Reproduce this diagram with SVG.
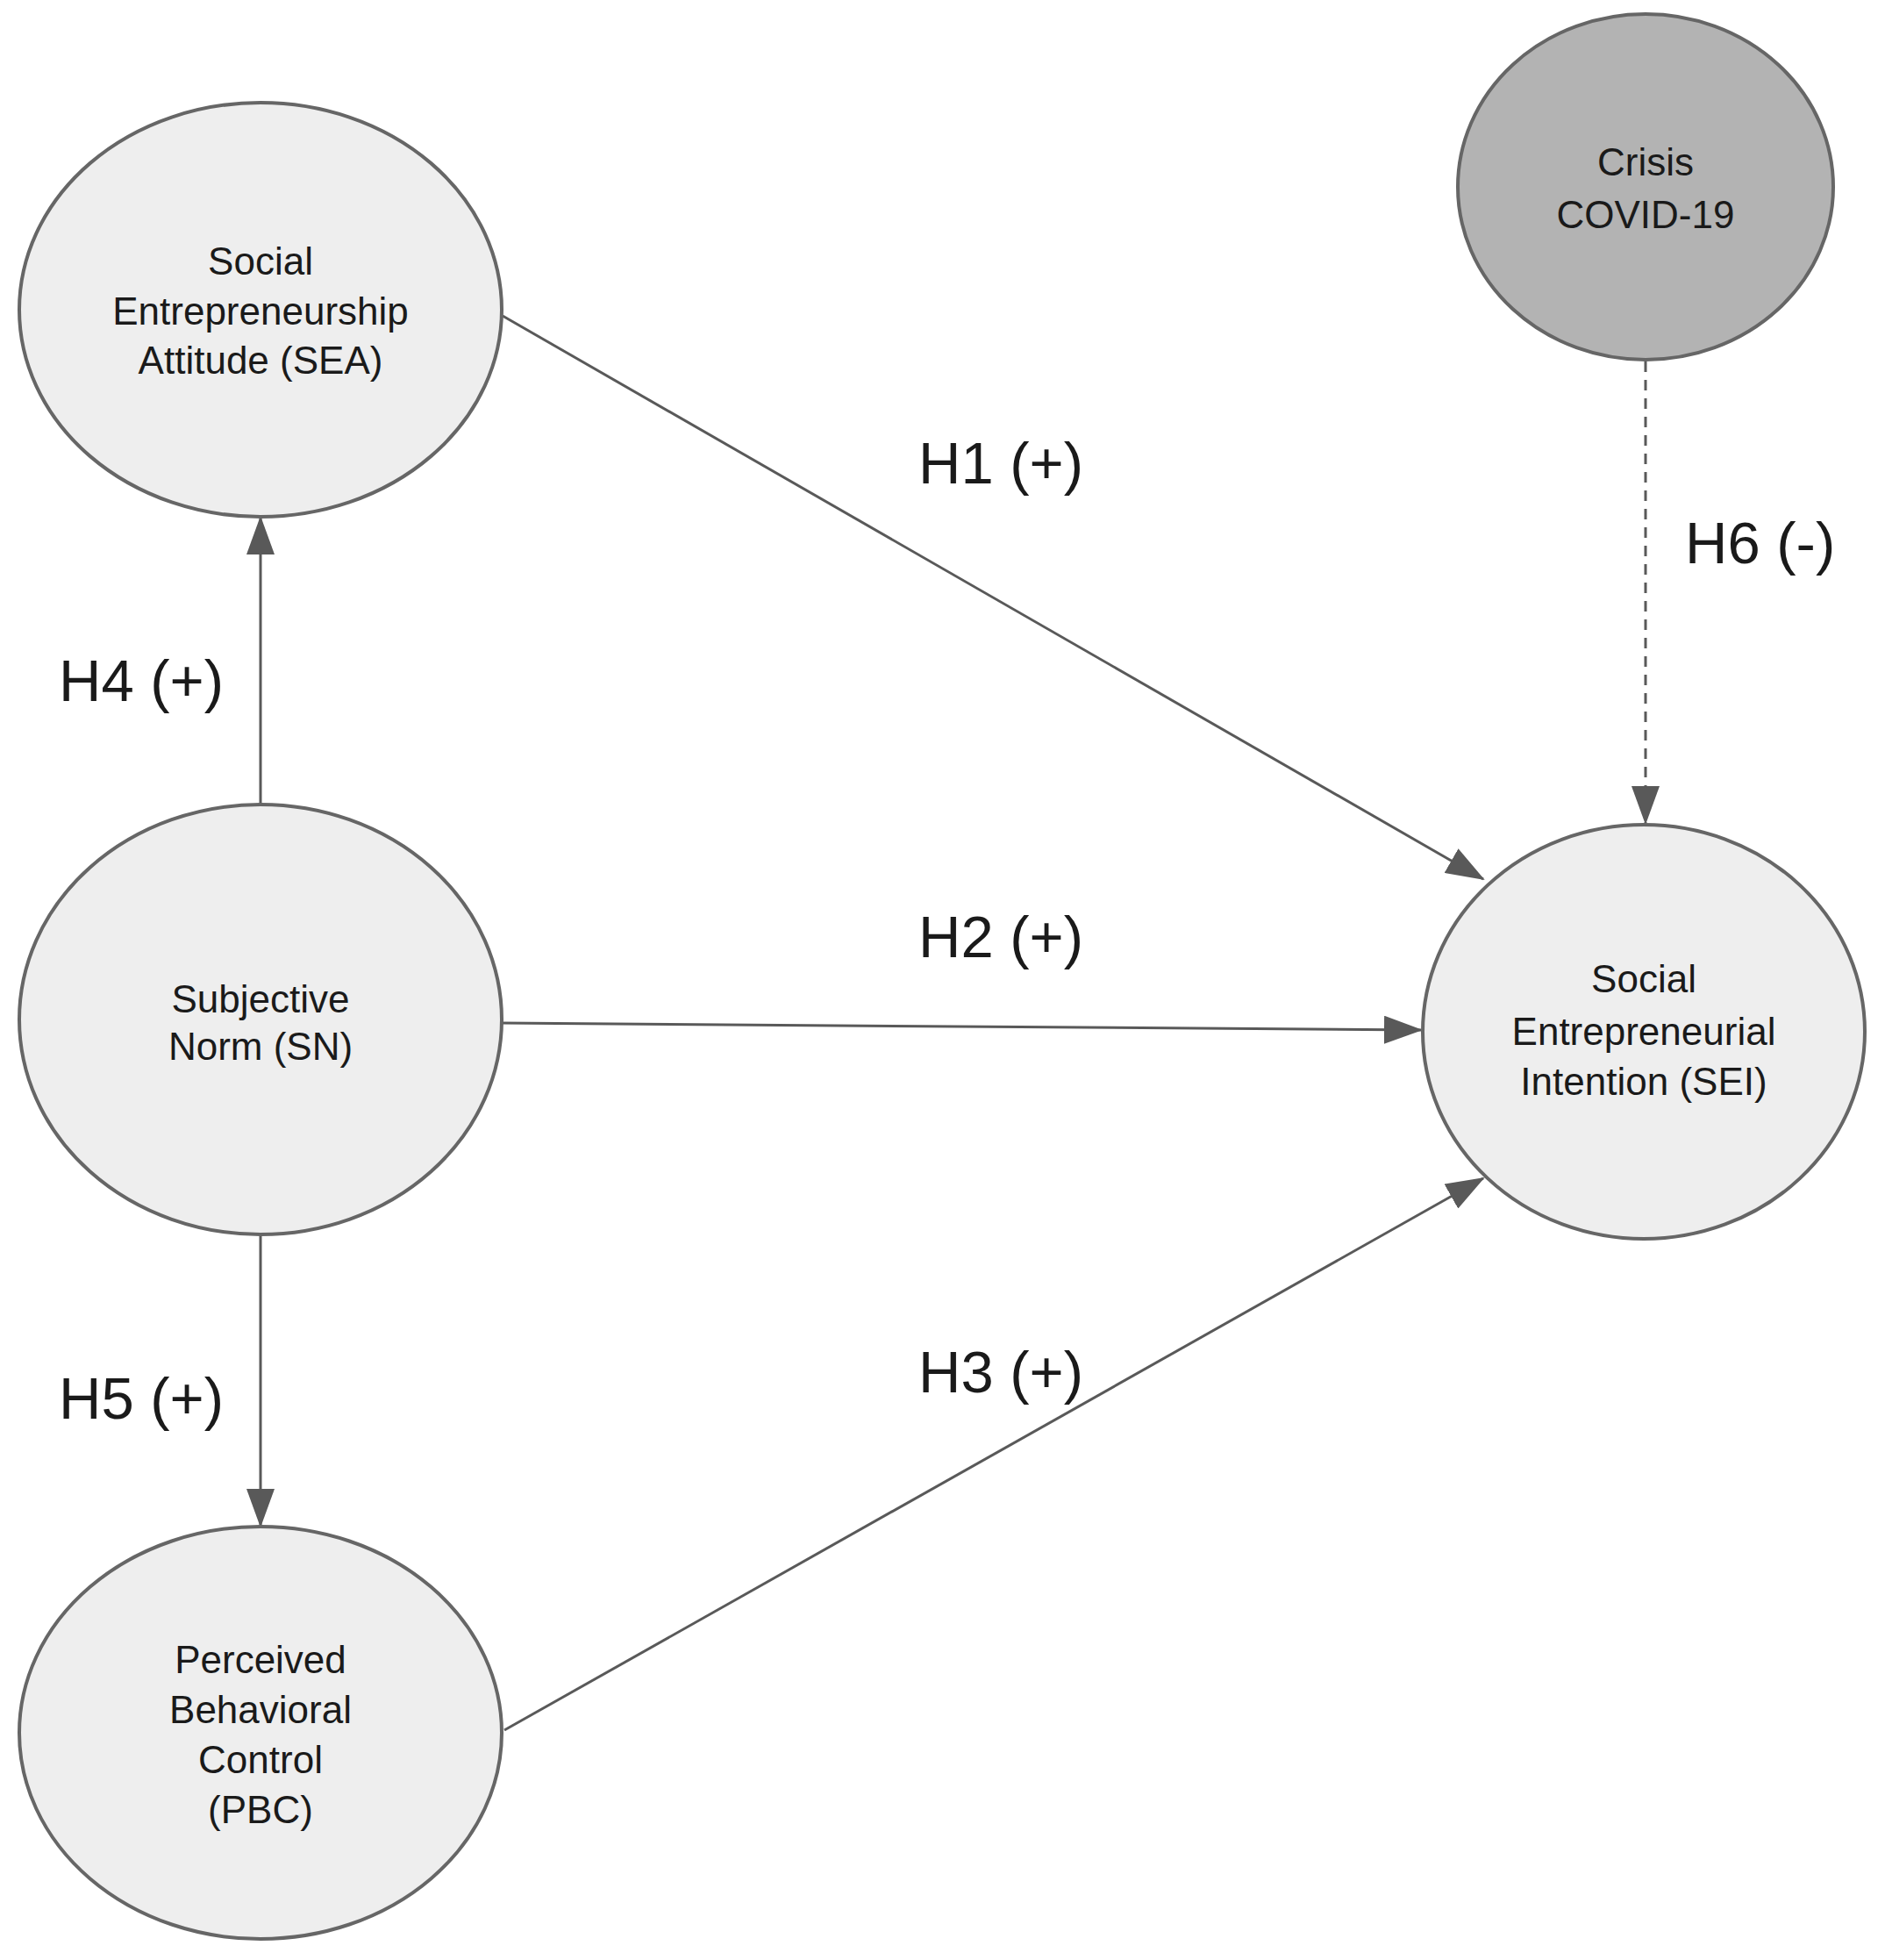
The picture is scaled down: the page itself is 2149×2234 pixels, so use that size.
<svg xmlns="http://www.w3.org/2000/svg" width="2149" height="2234" viewBox="0 0 2149 2234">
<style>
.n{fill:#eeeeee;stroke:#666;stroke-width:4}
.t{font-family:"Liberation Sans",Arial,sans-serif;font-size:44px;fill:#1a1a1a;text-anchor:middle}
.l{font-family:"Liberation Sans",Arial,sans-serif;font-size:67px;fill:#1a1a1a}
.e{stroke:#595959;stroke-width:3;fill:none}
</style>
<defs>
<marker id="a" markerUnits="userSpaceOnUse" markerWidth="44" markerHeight="32" refX="42" refY="16" orient="auto">
<path d="M0,0 L44,16 L0,32 Z" fill="#595959"/>
</marker>
</defs>
<rect width="2149" height="2234" fill="#fff"/>
<g id="edges">
<line class="e" x1="573" y1="360" x2="1691" y2="1002" marker-end="url(#a)"/>
<line class="e" x1="571" y1="1166" x2="1620" y2="1174" marker-end="url(#a)"/>
<line class="e" x1="575" y1="1972" x2="1691" y2="1343" marker-end="url(#a)"/>
<line class="e" x1="297" y1="917" x2="297" y2="590" marker-end="url(#a)"/>
<line class="e" x1="297" y1="1407" x2="297" y2="1739" marker-end="url(#a)"/>
<line class="e" x1="1876" y1="412" x2="1876" y2="938" stroke-dasharray="12,9" stroke-width="4" marker-end="url(#a)"/>
<text class="l" x="1047" y="551">H1 (+)</text>
<text class="l" x="1047" y="1091">H2 (+)</text>
<text class="l" x="1047" y="1587">H3 (+)</text>
<text class="l" x="67" y="799">H4 (+)</text>
<text class="l" x="67" y="1617">H5 (+)</text>
<text class="l" x="1921" y="642">H6 (-)</text>
</g>
<g id="SEA"><ellipse class="n" cx="297" cy="353" rx="275" ry="236"/>
<text class="t" x="297" y="313">Social</text><text class="t" x="297" y="370">Entrepreneurship</text><text class="t" x="297" y="426">Attitude (SEA)</text></g>
<g id="SN"><ellipse class="n" cx="297" cy="1162" rx="275" ry="245"/>
<text class="t" x="297" y="1154">Subjective</text><text class="t" x="297" y="1208">Norm (SN)</text></g>
<g id="PBC"><ellipse class="n" cx="297" cy="1975" rx="275" ry="235"/>
<text class="t" x="297" y="1907">Perceived</text><text class="t" x="297" y="1964">Behavioral</text><text class="t" x="297" y="2021">Control</text><text class="t" x="297" y="2078">(PBC)</text></g>
<g id="SEI"><ellipse class="n" cx="1874" cy="1176" rx="252" ry="236"/>
<text class="t" x="1874" y="1131">Social</text><text class="t" x="1874" y="1191">Entrepreneurial</text><text class="t" x="1874" y="1248">Intention (SEI)</text></g>
<g id="Crisis"><ellipse class="n" cx="1876" cy="213" rx="214" ry="197" fill="#b3b3b3" style="fill:#b3b3b3"/>
<text class="t" x="1876" y="200">Crisis</text><text class="t" x="1876" y="260">COVID-19</text></g>
</svg>
